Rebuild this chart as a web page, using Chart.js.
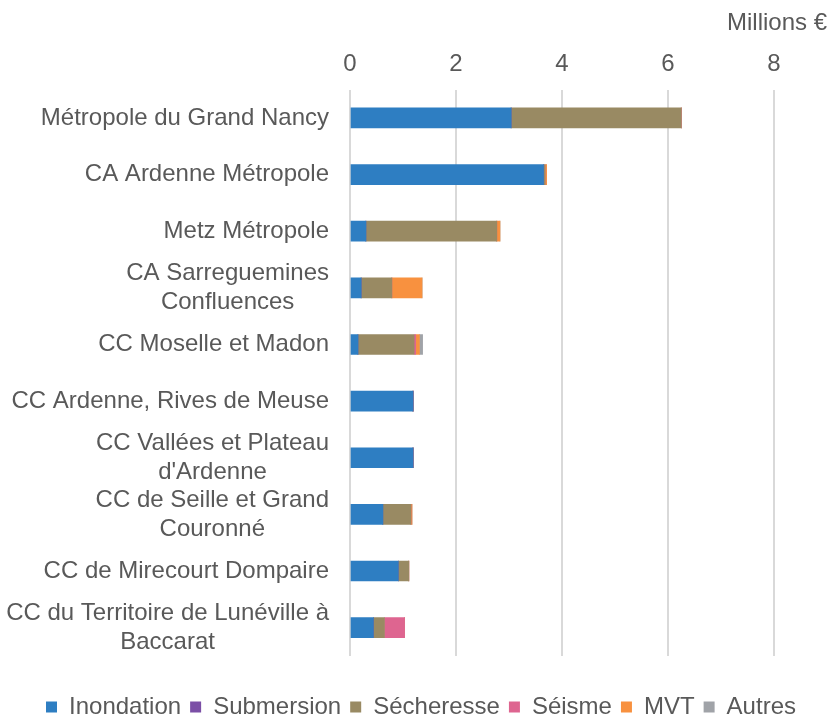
<!DOCTYPE html>
<html>
<head>
<meta charset="utf-8">
<script src="https://cdn.jsdelivr.net/npm/chart.js@4.4.0/dist/chart.umd.min.js"></script>
<style>
    html, body { margin: 0; padding: 0; background: #ffffff; }
    #wrap { width: 832px; height: 716px; }
</style>
</head>
<body>
<div id="wrap"><canvas id="costChart"></canvas></div>
<script>
// Data (millions of euros)
const territories = [
    'Métropole du Grand Nancy',
    'CA Ardenne Métropole',
    'Metz Métropole',
    ['CA Sarreguemines', 'Confluences'],
    'CC Moselle et Madon',
    'CC Ardenne, Rives de Meuse',
    ['CC Vallées et Plateau', "d'Ardenne"],
    ['CC de Seille et Grand', 'Couronné'],
    'CC de Mirecourt Dompaire',
    ['CC du Territoire de Lunéville à', 'Baccarat']
];
const inondation = [3.04, 3.65, 0.30, 0.21, 0.15, 1.19, 1.19, 0.62, 0.91, 0.44];
const submersion = [0, 0, 0, 0, 0, 0, 0, 0, 0, 0];
const secheresse = [3.21, 0.03, 2.47, 0.58, 1.06, 0, 0, 0.53, 0.20, 0.21];
const seisme = [0, 0, 0, 0, 0.03, 0, 0, 0, 0, 0.38];
const mvt = [0, 0.03, 0.06, 0.57, 0.07, 0, 0, 0.02, 0, 0];
const autres = [0, 0, 0, 0, 0.06, 0, 0, 0, 0, 0];
const xTicks = [0, 2, 4, 6, 8];

const textColor = '#595959';
const fontFamily = '"Liberation Sans", Arial, sans-serif';

// Draws the category labels: lines centred on each other, block right-aligned
const categoryLabels = {
    id: 'categoryLabels',
    afterDraw(chart) {
        const ctx = chart.ctx;
        const yScale = chart.scales.y;
        const right = chart.chartArea.left - 21;
        const lineHeight = 29;
        ctx.save();
        ctx.font = '24px ' + fontFamily;
        ctx.fillStyle = textColor;
        ctx.textAlign = 'center';
        ctx.textBaseline = 'middle';
        territories.forEach((label, i) => {
            const lines = Array.isArray(label) ? label : [label];
            const widest = Math.max(...lines.map(l => ctx.measureText(l).width));
            const cx = right - widest / 2;
            const yc = yScale.getPixelForValue(i);
            lines.forEach((line, j) => {
                const y = yc + (j - (lines.length - 1) / 2) * lineHeight;
                ctx.fillText(line, cx, y);
            });
        });
        ctx.restore();
    }
};

const ctx = document.getElementById('costChart').getContext('2d');
const costChart = new Chart(ctx, {
    type: 'bar',
    data: {
        labels: territories,
        datasets: [
            { label: 'Inondation', data: inondation, backgroundColor: '#2E7EC2' },
            { label: 'Submersion', data: submersion, backgroundColor: '#7B4FA6' },
            { label: 'Sécheresse', data: secheresse, backgroundColor: '#998A63' },
            { label: 'Séisme', data: seisme, backgroundColor: '#DE6590' },
            { label: 'MVT', data: mvt, backgroundColor: '#F8913F' },
            { label: 'Autres', data: autres, backgroundColor: '#A0A3A8' }
        ]
    },
    plugins: [categoryLabels],
    options: {
        indexAxis: 'y',
        responsive: true,
        maintainAspectRatio: false,
        animation: false,
        layout: {
            padding: { left: 15, right: 5, top: 0, bottom: -13 }
        },
        datasets: {
            bar: {
                barThickness: 20,
                borderWidth: 0
            }
        },
        plugins: {
            title: {
                display: true,
                text: 'Millions €',
                align: 'end',
                color: textColor,
                font: { family: fontFamily, size: 24, weight: 'normal' },
                padding: { top: 9, bottom: 1 }
            },
            legend: {
                position: 'bottom',
                title: {
                    display: true,
                    text: ' ',
                    font: { size: 10 },
                    padding: 9
                },
                labels: {
                    boxWidth: 11,
                    boxHeight: 11,
                    padding: 9,
                    color: textColor,
                    font: { family: fontFamily, size: 24 }
                }
            },
            tooltip: { enabled: false }
        },
        scales: {
            x: {
                position: 'top',
                stacked: true,
                min: 0,
                max: 9,
                afterBuildTicks: scale => {
                    scale.ticks = xTicks.map(v => ({ value: v }));
                },
                border: { display: false },
                grid: {
                    color: '#D9D9D9',
                    lineWidth: 2,
                    drawTicks: false
                },
                ticks: {
                    color: textColor,
                    padding: 11,
                    font: { family: fontFamily, size: 24 }
                }
            },
            y: {
                stacked: true,
                afterFit: scale => {
                    scale.width = 335;
                },
                border: { display: false },
                grid: { display: false },
                ticks: { display: false }
            }
        }
    }
});
</script>
</body>
</html>
